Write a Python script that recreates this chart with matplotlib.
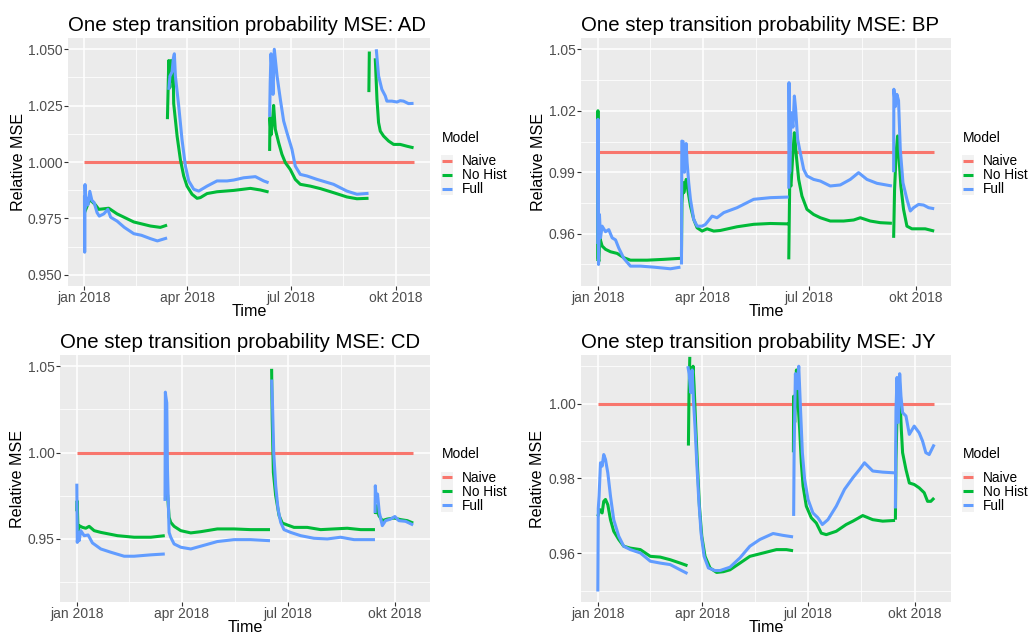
import numpy as np
import matplotlib
matplotlib.use('Agg')
import matplotlib.pyplot as plt
import matplotlib.dates as mdates
from matplotlib.patches import Rectangle

plt.rcParams['font.family'] = ['Liberation Sans', 'DejaVu Sans']

nan = np.nan

# days since 2018-01-01, nan marks a break in the line
start_date = '2018-01-01'
month_breaks = ['2018-01-01', '2018-04-01', '2018-07-01', '2018-10-01']
month_labels = ['jan 2018', 'apr 2018', 'jul 2018', 'okt 2018']
model_labels = ['Naive', 'No Hist', 'Full']
naive_level = 1.0

# ---- AD
ad_nohist_days = [0, 4.7, 9.6, 12.6, 21.3, 28.6, 43.3, 57.9, 66.6, 72.5, nan,
                  72.8, 74.0, 74.9, 76.0, 76.9, 77.8, 78.3, 81.3, 84.2, 87.1, 90.0, 94.4, 98.8, 101.7,
                  107.6, 116.3, 131.0, 145.6, 154.3, 161.6, nan,
                  162.5, 162.8, 163.7, 165.0, 166.0, 167.5, 170.4, 173.3, 176.3, 180.6, 185.0, 189.4,
                  198.2, 207.0, 218.6, 230.3, 239.1, 249.3, nan,
                  249.6, 250.0, nan,
                  255.2, 256.7, 258.1, 259.6, 262.5, 266.9, 271.3, 277.1, 283.0, 288.8]
ad_nohist = [0.9775, 0.9834, 0.9810, 0.9790, 0.9795, 0.9770, 0.9734, 0.9716, 0.9710, 0.9720, nan,
             1.0190, 1.0450, 1.0330, 1.0450, 1.0360, 1.0450, 1.0260, 1.0115, 1.0010, 0.9938, 0.9893,
             0.9857, 0.9839, 0.9842, 0.9860, 0.9868, 0.9874, 0.9883, 0.9876, 0.9867, nan,
             1.0049, 1.0197, 1.0120, 1.0180, 1.0251, 1.0145, 1.0086, 1.0034, 0.9997, 0.9967, 0.9923,
             0.9901, 0.9893, 0.9882, 0.9864, 0.9845, 0.9837, 0.9839, nan,
             1.0310, 1.0490, nan,
             1.0460, 1.0278, 1.0175, 1.0137, 1.0115, 1.0093, 1.0078, 1.0078, 1.0070, 1.0063]
ad_full_days = [0, 0.2, 0.5, 1.0, 2.0, 3.0, 4.7, 6.5, 8.5, 11.1, 13.0, 17.0, 20.5, 23.0, 28.6, 35.0,
                43.3, 50.0, 57.9, 64.0, 72.5, nan,
                74.0, 75.0, 76.9, 78.0, 78.9, 79.8, 82.7, 85.6, 88.6, 91.5, 95.9, 100.3, 107.6, 116.3,
                125.1, 131.0, 139.7, 150.0, 157.3, 161.6, nan,
                162.5, 163.0, 163.7, 164.6, 165.5, 166.6, 169.0, 171.9, 174.8, 177.7, 182.1, 185.0,
                189.4, 195.3, 204.0, 218.6, 230.3, 239.1, 249.3, nan,
                256.1, 258.1, 261.0, 264.0, 265.4, 269.8, 274.2, 277.1, 280.0, 284.4, 288.8]
ad_full = [0.985, 0.960, 0.990, 0.980, 0.984, 0.981, 0.987, 0.983, 0.982, 0.9775, 0.976, 0.977, 0.979,
           0.9755, 0.9738, 0.971, 0.9682, 0.9675, 0.966, 0.965, 0.9663, nan,
           1.032, 1.038, 1.040, 1.046, 1.048, 1.0382, 1.0249, 1.010, 0.9982, 0.9916, 0.9879, 0.9871,
           0.9893, 0.9916, 0.9916, 0.992, 0.993, 0.9935, 0.9916, 0.9908, nan,
           1.020, 1.035, 1.048, 1.040, 1.030, 1.050, 1.0382, 1.0278, 1.0182, 1.013, 1.0056, 0.9982,
           0.9945, 0.9938, 0.9923, 0.9901, 0.9871, 0.9857, 0.9861, nan,
           1.050, 1.0382, 1.0322, 1.0293, 1.027, 1.027, 1.0266, 1.0272, 1.027, 1.0259, 1.026]
ad_ylim = (0.95, 1.05)
ad_yticks = [0.950, 0.975, 1.000, 1.025, 1.050]
ad_ylabels = ['0.950', '0.975', '1.000', '1.025', '1.050']

# ---- BP
bp_nohist_days = [0, 0.1, 0.5, 0.9, 1.7, 3.7, 6.6, 10.9, 16.6, 22.3, 28.0, 42.3, 56.6, 70.9, nan,
                  71.8, 72.2, 73.2, 73.8, 74.3, 75.8, 77.2, 79.5, 82.3, 85.2, 89.5, 93.8, 99.5, 105.2,
                  119.5, 133.8, 148.1, 163.8, nan,
                  163.9, 164.7, 165.8, 167.5, 168.7, 170.4, 172.4, 175.2, 179.5, 185.2, 191.0, 199.5,
                  211.0, 219.6, 225.3, 233.8, 242.4, 252.4, nan,
                  253.9, 254.7, 256.1, 257.3, 258.4, 260.1, 262.4, 265.3, 269.6, 276.7, 281.0, 288.7]
bp_nohist = [0.9467, 1.020, 0.948, 0.9465, 0.958, 0.954, 0.9524, 0.9512, 0.9504, 0.9483, 0.9471,
             0.9471, 0.9475, 0.948, nan,
             0.950, 0.975, 0.985, 0.980, 0.9816, 0.9865, 0.9816, 0.9735, 0.967, 0.9629, 0.9613, 0.9624,
             0.9613, 0.9616, 0.9634, 0.9646, 0.965, 0.9648, nan,
             0.9475, 0.985, 0.9833, 1.000, 1.0093, 0.9979, 0.9865, 0.9784, 0.9719, 0.9694, 0.9678,
             0.9662, 0.9662, 0.9667, 0.9678, 0.9662, 0.9654, 0.9651, nan,
             0.958, 0.9816, 1.000, 1.0077, 0.9979, 0.9833, 0.9719, 0.9637, 0.9624, 0.9624, 0.9624, 0.9613]
bp_full_days = [0, 0.15, 0.6, 1.4, 2.3, 3.7, 6.6, 9.4, 12.3, 15.2, 18.0, 22.3, 28.0, 36.6, 48.0, 62.3,
                70.9, nan,
                71.8, 72.1, 73.2, 74.3, 75.8, 76.6, 78.0, 79.5, 82.3, 85.2, 89.5, 92.3, 98.1, 102.3,
                108.1, 119.5, 133.8, 148.1, 163.8, nan,
                163.9, 164.1, 164.7, 165.8, 167.5, 168.7, 169.8, 171.5, 173.8, 176.7, 179.5, 185.2,
                191.0, 199.5, 208.1, 216.7, 223.8, 231.0, 239.6, 252.4, nan,
                253.9, 254.1, 255.3, 256.7, 258.1, 259.6, 261.9, 265.3, 268.2, 271.0, 275.3, 279.6, 283.9, 288.7]
bp_full = [0.955, 1.0158, 0.945, 0.9694, 0.958, 0.9637, 0.961, 0.962, 0.958, 0.957, 0.953, 0.948,
           0.9442, 0.9442, 0.9437, 0.9429, 0.9437, nan,
           0.945, 1.0052, 1.005, 0.990, 1.004, 0.995, 0.985, 0.9768, 0.967, 0.9637, 0.9637, 0.9645,
           0.9686, 0.9678, 0.9703, 0.9727, 0.9768, 0.9776, 0.9779, nan,
           0.982, 1.0337, 0.990, 1.0191, 1.012, 1.0272, 1.0207, 1.0061, 0.9995, 0.9914, 0.9882, 0.9865,
           0.9857, 0.9833, 0.9838, 0.9865, 0.9898, 0.9865, 0.9846, 0.9833, nan,
           0.990, 1.0305, 1.022, 1.028, 1.025, 1.0011, 0.9849, 0.9768, 0.9711, 0.9727, 0.9743, 0.974,
           0.9727, 0.9722]
bp_ylim = (0.94, 1.05)
bp_yticks = [0.96, 0.99, 1.02, 1.05]
bp_ylabels = ['0.96', '0.99', '1.02', '1.05']

# ---- CD
cd_nohist_days = [0, 0.3, 1.1, 2.0, 4.9, 7.7, 10.6, 14.9, 20.6, 34.9, 49.2, 63.5, 75.5, nan,
                  76.0, 76.9, 78.0, 79.2, 80.6, 83.5, 89.2, 97.8, 106.3, 120.6, 134.9, 149.2, 165.8, nan,
                  167.2, 167.7, 168.7, 170.7, 173.6, 176.4, 180.7, 186.4, 197.8, 209.3, 220.7, 232.1,
                  243.6, 255.9, nan,
                  256.2, 257.3, 259.3, 262.2, 266.4, 272.2, 277.9, 283.6, 288.7]
cd_nohist = [0.966, 0.972, 0.9535, 0.9577, 0.9567, 0.9562, 0.9573, 0.9548, 0.9538, 0.9519, 0.951,
             0.951, 0.9519, nan,
             0.973, 0.9798, 0.975, 0.9625, 0.9596, 0.9573, 0.9548, 0.9535, 0.9542, 0.9558, 0.9558,
             0.9554, 0.9554, nan,
             1.0485, 1.0192, 0.9885, 0.975, 0.9635, 0.9592, 0.9581, 0.9567, 0.9567, 0.9554, 0.9558,
             0.9562, 0.9554, 0.9554, nan,
             0.9644, 0.9692, 0.9635, 0.9606, 0.9615, 0.9621, 0.9612, 0.9606, 0.9592]
cd_full_days = [0, 0.4, 1.1, 2.0, 3.4, 6.3, 9.7, 13.4, 20.6, 29.2, 40.6, 49.2, 63.5, 75.5, nan,
                75.7, 76.0, 76.3, 77.2, 77.8, 79.2, 80.6, 83.5, 89.2, 97.8, 106.3, 120.6, 134.9, 149.2,
                165.8, nan,
                167.2, 168.0, 169.0, 170.7, 172.7, 175.0, 177.8, 183.5, 192.1, 203.5, 215.0, 226.4,
                237.9, 255.9, nan,
                256.0, 256.2, 257.0, 258.1, 259.6, 262.2, 265.0, 269.3, 273.0, 276.4, 282.2, 288.7]
cd_full = [0.982, 0.948, 0.9538, 0.949, 0.9548, 0.9519, 0.9523, 0.9477, 0.9442, 0.9423, 0.940, 0.940,
           0.9408, 0.9413, nan,
           0.972, 1.035, 1.033, 1.0288, 0.9904, 0.9538, 0.951, 0.9471, 0.9452, 0.9442, 0.9458, 0.9485,
           0.9496, 0.9496, 0.949, nan,
           1.0423, 1.0269, 1.000, 0.9808, 0.9673, 0.9596, 0.9554, 0.9538, 0.9519, 0.9504, 0.950,
           0.951, 0.9496, 0.9496, nan,
           0.965, 0.9808, 0.9721, 0.976, 0.9654, 0.9577, 0.9606, 0.9615, 0.963, 0.9606, 0.9602, 0.9581]
cd_ylim = (0.92, 1.05)
cd_yticks = [0.95, 1.00, 1.05]
cd_ylabels = ['0.95', '1.00', '1.05']

# ---- JY
jy_nohist_days = [0, 1.7, 3.7, 5.1, 6.6, 8.6, 10.9, 13.7, 18.0, 22.3, 28.0, 36.6, 45.2, 53.7, 62.3,
                  70.9, 77.2, nan,
                  78.0, 78.5, 79.2, nan,
                  80.6, 81.5, 82.0, 82.9, 84.3, 85.8, 87.5, 89.5, 92.3, 96.6, 102.3, 108.1, 113.8,
                  122.4, 130.9, 142.4, 153.8, 162.4, 168.1, nan,
                  168.4, 168.6, 169.5, 171.0, 172.4, 173.8, 175.2, 176.7, 179.5, 183.8, 188.1, 192.4,
                  196.7, 205.3, 213.8, 219.6, 228.1, 236.7, 245.3, 255.9, nan,
                  256.2, 256.4, 256.7, 258.1, 259.6, 260.1, 261.3, 262.4, 265.3, 268.2, 272.4, 276.7,
                  281.0, 283.9, 286.7, 289.6]
jy_nohist = [0.9699, 0.9717, 0.9708, 0.9739, 0.9744, 0.973, 0.969, 0.9659, 0.9637, 0.9619, 0.9614,
             0.961, 0.9592, 0.959, 0.9583, 0.9574, 0.9567, nan,
             0.9888, 1.003, 1.0125, nan,
             1.010, 1.0085, 1.010, 1.0047, 0.994, 0.9833, 0.9726, 0.9646, 0.9592, 0.9561, 0.9549,
             0.9551, 0.9556, 0.9574, 0.9592, 0.9601, 0.961, 0.961, 0.9607, nan,
             0.987, 1.002, 0.995, 1.009, 1.000, 0.9931, 0.9842, 0.978, 0.9726, 0.9695, 0.9681, 0.9654,
             0.965, 0.9659, 0.9677, 0.9686, 0.9701, 0.969, 0.9686, 0.9688, nan,
             0.969, 0.975, 0.9851, 1.003, 1.007, 1.002, 0.9931, 0.9869, 0.9824, 0.9788, 0.9784, 0.9775,
             0.9762, 0.9739, 0.9739, 0.9748]
jy_full_days = [0, 0.4, 1.1, 2.3, 3.7, 5.1, 6.6, 8.6, 10.9, 13.7, 18.0, 22.3, 28.0, 36.6, 45.2, 53.7,
                62.3, 70.9, 77.2, nan,
                77.5, 78.6, 80.0, 81.2, 82.3, 83.8, 85.2, 86.9, 88.9, 91.5, 95.2, 100.9, 105.2, 113.8,
                122.4, 130.9, 139.5, 150.9, 159.5, 168.1, nan,
                168.6, 169.0, 170.1, 171.5, 173.0, 174.4, 176.1, 178.1, 181.0, 185.2, 189.5, 193.3,
                198.1, 205.3, 212.4, 219.6, 225.3, 229.6, 236.7, 245.3, 255.9, nan,
                256.2, 256.5, 256.7, 257.6, 258.7, 259.9, 261.0, 262.4, 265.3, 268.2, 272.4, 276.7,
                279.6, 282.4, 285.3, 289.6]
jy_full = [0.9498, 0.972, 0.9753, 0.9842, 0.9833, 0.9864, 0.9851, 0.9815, 0.9753, 0.969, 0.9646,
           0.9619, 0.961, 0.9601, 0.9579, 0.9574, 0.957, 0.9556, 0.9546, nan,
           1.010, 1.008, 1.003, 1.009, 1.0012, 0.9931, 0.9842, 0.9744, 0.9654, 0.9592, 0.9561, 0.9554,
           0.9554, 0.9563, 0.9588, 0.9619, 0.9637, 0.9653, 0.9648, 0.9644, nan,
           0.970, 0.9869, 1.008, 1.004, 1.010, 0.9994, 0.9869, 0.9797, 0.9744, 0.9708, 0.9695, 0.9677,
           0.969, 0.9726, 0.9771, 0.9802, 0.9824, 0.9842, 0.982, 0.9817, 0.9815, nan,
           0.972, 0.990, 0.998, 1.007, 0.995, 1.008, 1.002, 0.9976, 0.9967, 0.9918, 0.994, 0.9922,
           0.990, 0.9869, 0.9864, 0.9891]
jy_ylim = (0.95, 1.01)
jy_yticks = [0.96, 0.98, 1.00]
jy_ylabels = ['0.96', '0.98', '1.00']

# colours (ggplot hue palette)
col_naive, col_nohist, col_full = '#F8766D', '#00BA38', '#619CFF'

W, H = 1033, 637
fig = plt.figure(figsize=(W / 100, H / 100), dpi=100)

# panel boxes in pixels: left, top, right, bottom ; y-label offset
panels = [
    ('AD', (68, 38, 430, 286), 49.7, ad_ylim, ad_yticks, ad_ylabels, ad_nohist_days, ad_nohist, ad_full_days, ad_full),
    ('BP', (581, 38, 951, 286), 42.7, bp_ylim, bp_yticks, bp_ylabels, bp_nohist_days, bp_nohist, bp_full_days, bp_full),
    ('CD', (60, 355, 430, 602), 42.5, cd_ylim, cd_yticks, cd_ylabels, cd_nohist_days, cd_nohist, cd_full_days, cd_full),
    ('JY', (581, 355, 951, 602), 43.0, jy_ylim, jy_yticks, jy_ylabels, jy_nohist_days, jy_nohist, jy_full_days, jy_full),
]

t0 = mdates.date2num(np.datetime64(start_date))
xbreaks = mdates.date2num(np.array(month_breaks, dtype='datetime64[D]'))
xminor = (xbreaks[:-1] + xbreaks[1:]) / 2

for name, (l, t, r, b), ylab_off, ylim, yticks, ylabels, nh_days, nh, fu_days, fu in panels:
    pw, ph = r - l, b - t
    ax = fig.add_axes([l / W, 1 - b / H, pw / W, ph / H])
    ax.set_facecolor('#EBEBEB')
    for s in ax.spines.values():
        s.set_visible(False)

    nh_x = t0 + np.array(nh_days)
    fu_x = t0 + np.array(fu_days)
    all_x = np.concatenate([nh_x, fu_x])
    span = [np.nanmin(all_x), np.nanmax(all_x)]
    kw = dict(lw=2.2, solid_capstyle='butt', solid_joinstyle='round')
    l_na, = ax.plot(span, [naive_level, naive_level], color=col_naive, **kw)
    l_nh, = ax.plot(nh_x, nh, color=col_nohist, **kw)
    l_fu, = ax.plot(fu_x, fu, color=col_full, **kw)

    ax.margins(x=0.05)
    lo, hi = ylim
    pad = 0.05 * (hi - lo)
    ax.set_ylim(lo - pad, hi + pad)

    ax.set_xticks(xbreaks, month_labels)
    ax.set_xticks(xminor, minor=True)
    ax.set_yticks(yticks, ylabels)
    step = yticks[1] - yticks[0]
    ym = np.arange(yticks[0] - step / 2, yticks[-1] + step, step)
    ax.set_yticks(ym[(ym > lo - pad) & (ym < hi + pad)], minor=True)

    ax.set_axisbelow(True)
    ax.grid(which='major', color='white', lw=1.1)
    ax.grid(which='minor', color='white', lw=0.55)
    ax.tick_params(which='major', length=2.7, width=0.8, color='#333333',
                   labelcolor='#4D4D4D', labelsize=10, pad=1.2)
    ax.tick_params(which='minor', length=0)

    ax.set_xlabel('Time', fontsize=11.6, va='center')
    ax.xaxis.set_label_coords(0.5, -25.8 / ph)
    ax.set_ylabel('Relative MSE', fontsize=11.6, va='center')
    ax.yaxis.set_label_coords(-ylab_off / pw, 0.5)

    fig.text(l / W, 1 - (t - 7) / H, 'One step transition probability MSE: ' + name,
             fontsize=14.7, ha='left', va='baseline')

    # legend: title as its own text, entries through ax.legend, grey key column behind
    ax.add_patch(Rectangle((1 + 11 / pw, 0.5 - 33.3 / ph), 12 / pw, 40 / ph,
                           transform=ax.transAxes, facecolor='#F2F2F2', edgecolor='none',
                           clip_on=False, zorder=0))
    ax.text(1 + 11.7 / pw, 0.5 + 24.3 / ph, 'Model', transform=ax.transAxes,
            fontsize=10, ha='left', va='center')
    ax.legend([l_na, l_nh, l_fu], model_labels, loc='center left',
              bbox_to_anchor=(1 + 11.7 / pw, 0.5 - 13.3 / ph), frameon=False, fontsize=9.8,
              handlelength=0.75, handletextpad=0.72, labelspacing=0.0,
              borderpad=0, borderaxespad=0)

fig.savefig('out.png', dpi=100)
